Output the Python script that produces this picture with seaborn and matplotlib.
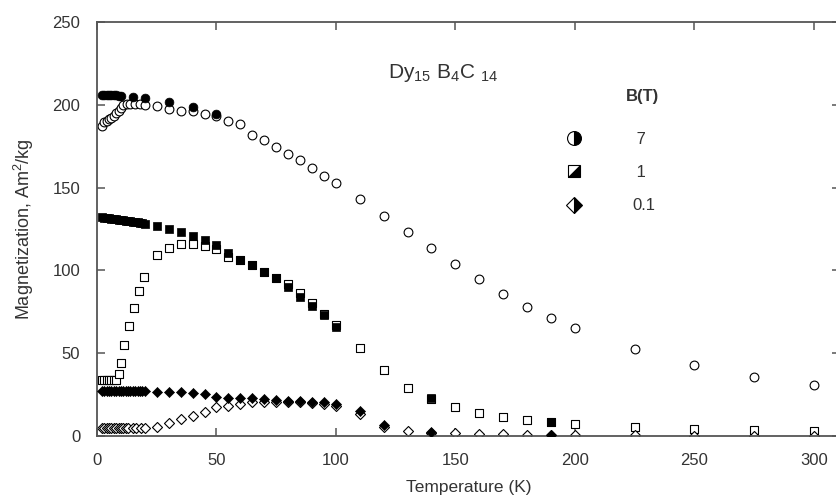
import matplotlib
matplotlib.use("Agg")
import matplotlib.pyplot as plt
import seaborn as sns
from matplotlib.lines import Line2D
from matplotlib.markers import MarkerStyle
from matplotlib.transforms import Affine2D

# Dy15B4C14 magnetization vs temperature, FC (filled) and ZFC (open) curves

# 7 T
t_7T_zfc = [2, 3, 4, 5, 6, 7, 8, 9, 10, 11, 12.5, 14, 16, 18, 20, 25, 30, 35, 40, 45, 50,
            55, 60, 65, 70, 75, 80, 85, 90, 95, 100, 110, 120, 130, 140, 150, 160, 170,
            180, 190, 200, 225, 250, 275, 300]
m_7T_zfc = [187, 189.5, 190.5, 191.5, 192, 193.5, 195, 196, 198, 200, 200.5, 200.5, 200.5,
            200.5, 200, 199, 197.5, 196.5, 196, 194.5, 193, 190.5, 188.5, 181.5, 178.5,
            174.5, 170.3, 166.7, 162, 157, 152.5, 143, 133, 123, 113.5, 104, 95, 86, 78,
            71.5, 65.5, 52.5, 43, 35.5, 31]
t_7T_fc = [2, 3, 4, 5, 6, 7, 8, 9, 10, 15, 20, 30, 40, 50]
m_7T_fc = [206, 206, 206, 206, 206, 206, 206, 205.5, 205.5, 205, 204, 201.5, 198.5, 194.5]

# 1 T
t_1T_zfc = [2, 3, 4, 5, 6, 7, 8, 9, 10, 11.5, 13.5, 15.5, 17.5, 19.5, 25, 30, 35, 40, 45,
            50, 55, 60, 65, 70, 75, 80, 85, 90, 95, 100, 110, 120, 130, 140, 150, 160, 170,
            180, 190, 200, 225, 250, 275, 300]
m_1T_zfc = [33.8, 33.8, 33.8, 33.8, 33.8, 33.8, 34, 37.3, 43.9, 55, 66.4, 77.5, 87.6, 95.8,
            109.3, 113.7, 115.8, 115.8, 114.9, 112.7, 108.3, 106, 103, 99, 95.5, 91.5, 86.2,
            80.2, 73.5, 67.3, 53, 39.9, 28.8, 22.5, 17.3, 13.7, 11.3, 9.7, 8.3, 7.2, 5.6,
            4.4, 3.6, 3]
t_1T_fc = [2, 3, 4, 5, 6, 7, 8, 9, 10, 11, 12, 13, 14, 15, 16, 17, 18, 19, 20, 25, 30, 35,
           40, 45, 50, 55, 60, 65, 70, 75, 80, 85, 90, 95, 100, 140, 190]
m_1T_fc = [132, 131.8, 131.6, 131.4, 131.2, 131, 130.8, 130.6, 130.4, 130.2, 130, 129.8,
           129.6, 129.4, 129.2, 129, 128.7, 128.4, 128, 127, 125.2, 123.2, 120.8, 118.2,
           115.6, 110.3, 106.3, 103.1, 99.1, 95.4, 90, 84, 78.3, 72.9, 65.8, 22.9, 8.6]

# 0.1 T
t_01T_zfc = [2, 3, 4, 5, 6, 7, 8, 9, 10, 11, 12, 13, 15, 16.5, 18.5, 20, 25, 30, 35, 40, 45,
             50, 55, 60, 65, 70, 75, 80, 85, 90, 95, 100, 110, 120, 130, 140, 150, 160, 170,
             180, 190, 200, 225, 250, 275, 300]
m_01T_zfc = [4.6, 4.6, 4.6, 4.6, 4.6, 4.6, 4.6, 4.6, 4.6, 4.6, 4.6, 4.6, 4.6, 4.6, 4.6, 4.7,
             5.6, 7.7, 10.1, 12.3, 14.7, 17.5, 18.3, 19.1, 20.3, 20.5, 20.3, 20.4, 20.3,
             19.9, 19.5, 18.3, 13.1, 5.6, 3, 2, 1.6, 1.3, 1, 0.9, 0.7, 0.6, 0.4, 0.3, 0.3, 0.3]
t_01T_fc = [2, 3, 4, 5, 6, 7, 8, 9, 10, 11, 12, 13, 14, 15, 16, 17, 18, 19, 20, 25, 30, 35,
            40, 45, 50, 55, 60, 65, 70, 75, 80, 85, 90, 95, 100, 110, 120, 140, 190]
m_01T_fc = [27.3, 27.3, 27.3, 27.3, 27.3, 27.3, 27.3, 27.3, 27.3, 27.2, 27.2, 27.2, 27.2,
            27.2, 27.2, 27.1, 27.1, 27.0, 27.0, 26.8, 26.8, 26.6, 26.1, 25.2, 23.7, 23.1,
            23.1, 22.8, 22.2, 21.7, 21.4, 21.3, 20.7, 20.4, 19.1, 15.3, 6.6, 2.2, 0.6]

field_labels = [" 7", " 1", "0.1"]

sns.set_theme(style="ticks")
plt.rcParams["font.family"] = ["Liberation Sans", "DejaVu Sans"]
plt.rcParams["mathtext.default"] = "regular"

ink = "#333333"
spine_col = "#555555"

fig = plt.figure(figsize=(8.36, 5.03), dpi=100)
ax = fig.add_axes([97 / 836, 67 / 503, 743 / 836, 414 / 503])

open_kw = dict(facecolor="white", edgecolor="black", linewidth=0.8, zorder=2, legend=False)
fill_kw = dict(color="black", edgecolor="black", linewidth=0.5, zorder=3, legend=False)

# open (ZFC) first, filled (FC) on top
sns.scatterplot(x=t_7T_zfc, y=m_7T_zfc, marker="o", s=40, ax=ax, **open_kw)
sns.scatterplot(x=t_1T_zfc, y=m_1T_zfc, marker="s", s=30, ax=ax, **open_kw)
sns.scatterplot(x=t_01T_zfc, y=m_01T_zfc, marker="D", s=26, ax=ax, **open_kw)
sns.scatterplot(x=t_7T_fc, y=m_7T_fc, marker="o", s=40, ax=ax, **fill_kw)
sns.scatterplot(x=t_1T_fc, y=m_1T_fc, marker="s", s=30, ax=ax, **fill_kw)
sns.scatterplot(x=t_01T_fc, y=m_01T_fc, marker="D", s=26, ax=ax, **fill_kw)

ax.set_xlim(0, 311)
ax.set_ylim(0, 250)
ax.set_xticks([0, 50, 100, 150, 200, 250, 300])
ax.set_yticks([0, 50, 100, 150, 200, 250])

for side in ["left", "right", "top", "bottom"]:
    ax.spines[side].set_visible(True)
    ax.spines[side].set_color(spine_col)
    ax.spines[side].set_linewidth(1.3)

ax.tick_params(direction="in", top=True, right=True, length=6, width=1.1,
               color=spine_col, labelsize=12, labelcolor=ink, pad=12)

ax.set_xlabel("Temperature (K)", fontsize=12.5, color=ink, labelpad=9)
ax.set_ylabel("Magnetization, Am$^2$/kg", fontsize=13, color=ink, labelpad=12)

ax.text(122, 219.5, "Dy$_{15}$ B$_4$C $_{14}$", fontsize=15, color=ink, ha="left", va="center")

# legend header drawn as its own text, entries below it
ax.text(0.734, 0.819, "B(T)", transform=ax.transAxes, fontsize=12, fontweight="bold",
        color=ink, ha="center", va="center")

# half-filled legend markers
sq_marker = MarkerStyle("D", fillstyle="right", transform=Affine2D().rotate_deg(-45))
handles = [
    Line2D([], [], linestyle="none", marker="o", fillstyle="right", markersize=10,
           markerfacecolor="black", markerfacecoloralt="white", markeredgecolor="black",
           markeredgewidth=0.8),
    Line2D([], [], linestyle="none", marker=sq_marker, markersize=9,
           markerfacecolor="black", markerfacecoloralt="white", markeredgecolor="black",
           markeredgewidth=0.8),
    Line2D([], [], linestyle="none", marker="D", fillstyle="right", markersize=8.5,
           markerfacecolor="black", markerfacecoloralt="white", markeredgecolor="black",
           markeredgewidth=0.8),
]
leg = ax.legend(handles, field_labels, frameon=False, loc="upper left",
                bbox_to_anchor=(0.619, 0.755), fontsize=12,
                handlelength=1.0, handletextpad=3.0, labelspacing=1.1, borderpad=0)
for txt in leg.get_texts():
    txt.set_color(ink)

fig.savefig("out.png", dpi=100)
